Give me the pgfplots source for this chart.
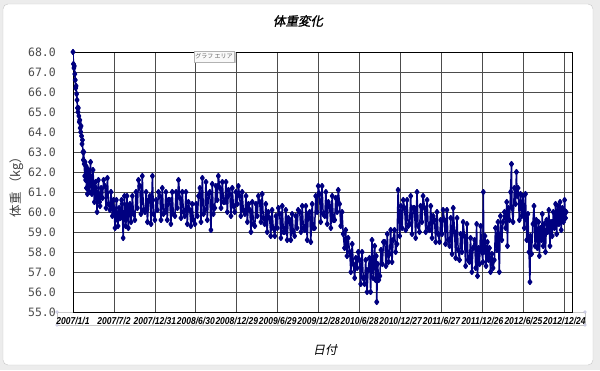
\documentclass[border=0pt]{standalone}
\usepackage{pgfplots}
\pgfplotsset{compat=1.18}
\usepackage{pgfplotstable}
\usepackage{fontspec}
\setmainfont{Noto Sans CJK JP}
\newfontfamily\jpfont{Noto Sans CJK JP}
\newfontfamily\jpit[FakeSlant=0.2]{Noto Sans CJK JP}
\newfontfamily\jptitle[FakeSlant=0.2,FakeBold=1.2]{Noto Sans CJK JP}
\newfontfamily\ytickfont{DejaVu Sans Mono}
\newfontfamily\xtickfont[FakeStretch=0.85]{Liberation Sans}
\definecolor{navy}{RGB}{0,0,128}

\pgfplotstableread{
d w
0 68.0
2 67.4
4 67.2
6 67.3
8 66.9
10 66.6
12 66.2
14 66.3
16 65.9
18 65.6
20 65.2
22 65.0
24 65.2
26 64.8
28 64.5
30 64.6
32 64.2
34 64.0
36 64.3
38 63.8
40 63.4
42 63.6
44 63.0
46 62.6
48 63.0
50 62.4
52 61.8
54 62.5
56 61.6
58 62.3
60 61.2
62 62.2
64 60.9
66 61.8
69 62.1
73 61.0
78 62.5
82 61.3
84 60.9
89 62.1
95 60.5
100 61.5
102 61.2
107 60.0
113 61.6
118 60.5
120 60.3
125 61.2
131 60.7
136 61.6
142 61.3
147 60.2
153 61.7
158 60.4
164 60.1
169 61.0
175 59.8
180 60.6
182 60.2
187 59.2
193 60.6
198 59.6
200 59.3
205 60.2
211 59.7
216 60.6
218 60.4
223 58.7
229 60.8
234 59.3
236 59.6
240 60.8
246 59.2
251 60.3
253 60.4
258 59.5
264 60.8
269 59.9
275 59.6
280 61.0
286 60.2
291 61.6
297 61.3
302 59.9
308 61.8
313 60.1
320 60.0
325 61.0
331 59.5
336 60.6
342 60.8
347 59.4
353 61.8
358 59.9
364 59.6
369 60.6
375 60.1
380 61.0
386 60.8
391 59.6
397 61.2
402 59.9
408 60.0
413 61.0
419 59.6
424 60.6
430 60.6
435 59.4
441 61.0
446 59.9
453 59.8
458 61.0
464 60.2
469 61.6
475 60.7
480 59.7
486 61.0
491 60.0
497 59.8
502 61.0
508 59.4
513 60.5
519 60.1
524 59.3
530 60.4
535 59.6
542 59.4
547 60.4
553 59.8
558 60.8
564 61.2
569 59.5
575 61.7
580 59.9
586 60.1
591 61.5
597 59.6
602 60.9
608 61.0
613 59.1
619 61.4
624 59.9
630 60.2
635 61.3
641 60.6
646 61.8
653 61.2
658 60.2
664 61.5
669 60.5
675 60.5
680 61.5
686 60.0
691 61.1
697 60.9
702 59.8
708 61.2
713 60.3
719 60.0
724 61.0
730 60.4
735 61.3
741 60.8
746 59.8
752 61.0
757 60.1
764 59.9
769 60.8
775 59.5
780 60.4
786 60.1
791 59.0
797 60.5
802 59.4
808 59.3
813 60.4
819 59.8
824 60.8
830 60.5
835 59.5
841 60.9
846 59.7
852 59.4
857 60.4
863 59.0
868 60.0
874 59.7
879 58.8
885 60.1
890 59.2
897 58.8
902 59.8
908 59.2
913 60.2
919 59.9
924 58.7
930 60.3
935 59.0
941 59.0
946 60.1
952 58.6
957 59.7
963 59.6
968 58.6
974 59.9
979 59.0
985 58.8
990 59.8
996 59.2
1001 60.1
1008 60.0
1013 59.0
1019 60.3
1024 59.2
1030 59.1
1035 60.3
1041 58.6
1046 59.9
1052 60.0
1057 58.5
1063 60.4
1068 59.2
1074 59.2
1079 60.8
1085 60.0
1090 61.3
1096 60.9
1101 59.5
1107 61.3
1112 59.9
1119 59.8
1124 61.0
1130 59.4
1135 60.5
1141 60.3
1146 59.2
1152 60.8
1157 59.6
1163 59.6
1168 60.7
1174 60.0
1179 61.1
1185 60.4
1190 59.3
1196 60.0
1201 58.9
1207 58.2
1212 59.1
1218 57.8
1223 58.7
1230 58.0
1235 57.0
1241 58.4
1246 57.4
1252 56.7
1257 57.7
1263 57.2
1268 58.0
1274 57.6
1279 56.4
1285 58.0
1290 56.7
1296 56.4
1301 57.6
1307 56.0
1312 57.1
1318 57.7
1323 56.0
1329 58.6
1334 56.7
1341 58.3
1345 56.6
1348 57.8
1350 55.5
1354 57.4
1359 56.6
1364 56.8
1369 58.1
1375 57.4
1380 58.5
1386 58.5
1391 57.3
1397 58.9
1402 57.5
1407 57.9
1412 59.1
1418 57.5
1423 58.6
1429 59.1
1434 58.0
1440 58.4
1445 61.1
1452 58.8
1457 60.3
1463 59.2
1468 60.6
1474 60.2
1479 59.1
1485 60.6
1490 59.3
1496 59.4
1501 60.8
1507 58.9
1512 60.2
1518 60.2
1523 58.7
1529 61.0
1534 59.3
1540 59.0
1545 60.3
1551 59.5
1556 60.8
1563 60.2
1568 59.0
1574 60.6
1579 59.2
1585 59.1
1590 60.3
1596 58.7
1601 59.8
1607 59.6
1612 58.5
1618 60.0
1623 58.9
1629 58.5
1634 59.6
1640 58.9
1645 60.1
1651 59.6
1656 58.4
1662 60.1
1667 58.6
1674 58.3
1679 59.7
1685 57.9
1690 60.2
1696 59.0
1701 57.7
1707 59.7
1712 58.1
1718 57.6
1723 58.9
1729 58.0
1734 59.5
1740 58.8
1745 57.3
1751 59.4
1756 57.6
1762 57.5
1767 58.7
1773 57.0
1778 58.2
1785 58.6
1790 57.2
1794 59.4
1798 56.8
1803 58.2
1807 57.4
1812 59.3
1817 58.0
1822 57.5
1824 61.0
1826 58.0
1831 58.8
1836 57.3
1842 58.5
1847 57.6
1851 58.2
1856 57.0
1862 57.9
1867 57.2
1873 57.6
1878 59.2
1884 58.1
1889 59.5
1895 57.0
1900 59.8
1906 58.6
1911 59.5
1918 60.0
1923 59.2
1928 60.5
1931 58.3
1935 60.2
1940 59.6
1945 61.0
1949 62.4
1951 60.2
1956 59.5
1962 61.2
1967 60.4
1971 62.0
1974 60.8
1978 61.2
1984 59.6
1989 60.9
1995 59.8
2000 60.8
2006 59.2
2011 60.9
2017 58.6
2022 59.9
2027 58.0
2031 56.5
2033 58.8
2038 57.9
2044 59.4
2049 60.3
2054 58.3
2059 59.6
2064 58.2
2069 59.5
2073 57.8
2078 59.2
2082 58.6
2086 59.9
2090 58.3
2095 59.4
2100 58.0
2105 59.6
2110 59.0
2115 60.1
2120 58.3
2125 59.5
2130 58.8
2135 60.0
2140 59.2
2145 60.4
2150 58.9
2155 60.3
2160 59.4
2165 60.5
2170 59.1
2175 60.2
2180 59.5
2185 60.6
2189 59.7
2192 60.0
}\weight

\begin{document}
\begin{tikzpicture}
% background and chart frame
\fill[gray!15] (0pt,0pt) rectangle (600pt,370pt);
\draw[gray!45, fill=white, rounded corners=5pt] (3pt,5pt) rectangle (593pt,366pt);
% selection box of the category axis
\draw[gray!45, line width=0.5pt] (57pt,58pt) rectangle (585pt,45pt);
\foreach \p in {(57pt,58pt),(57pt,45pt),(585pt,58pt),(585pt,45pt)}
  \draw[blue!30!gray!60, fill=white, line width=0.4pt] \p circle (1.3pt);
\begin{axis}[
  at={(73pt,58pt)}, anchor=south west,
  width=499pt, height=260pt, scale only axis,
  xmin=0, xmax=2218, ymin=55, ymax=68,
  xtick={0,182,364,546,728,910,1092,1274,1456,1638,1820,2002,2184},
  xticklabels={2007/1/1,2007/7/2,2007/12/31,2008/6/30,2008/12/29,2009/6/29,2009/12/28,2010/6/28,2010/12/27,2011/6/27,2011/12/26,2012/6/25,2012/12/24},
  ytick={55,56,...,68},
  grid=major,
  major grid style={black!70, line width=0.7pt},
  axis line style={black, line width=0.8pt},
  major tick length=0pt,
  /pgf/number format/assume math mode=true,
  /pgf/number format/fixed,
  /pgf/number format/fixed zerofill,
  /pgf/number format/precision=1,
  yticklabel style={font=\ytickfont\fontsize{11.5}{11.5}\selectfont, text=black!70, inner sep=0pt, xshift=-17pt},
  xticklabel style={font=\xtickfont\bfseries\itshape\fontsize{10}{10}\selectfont, inner sep=0pt, yshift=-5pt, anchor=north},
  clip=true,
]
\addplot[color=navy, line width=1.5pt, line join=round, mark=diamond*, mark size=2.3pt, mark options={solid}] table[x=d,y=w]{\weight};
\end{axis}
% titles
\node[font=\jptitle\fontsize{12.5}{12.5}\selectfont] at (298pt,349pt) {体重変化};
\node[font=\jpit\fontsize{12}{12}\selectfont] at (325pt,20pt) {日付};
\node[font=\jpfont\fontsize{12.5}{12.5}\selectfont, text=black!75, rotate=90] at (17pt,186pt) {体重 （kg）};
% tooltip
\fill[gray!40] (195.5pt,307pt) rectangle (235.5pt,318pt);
\node[draw=gray!60, fill=gray!5, inner sep=1pt, minimum width=40pt, minimum height=11pt, font=\jpfont\fontsize{6}{6}\selectfont, text=black!60] at (214pt,313.5pt) {グラフ エリア};
\end{tikzpicture}
\end{document}
